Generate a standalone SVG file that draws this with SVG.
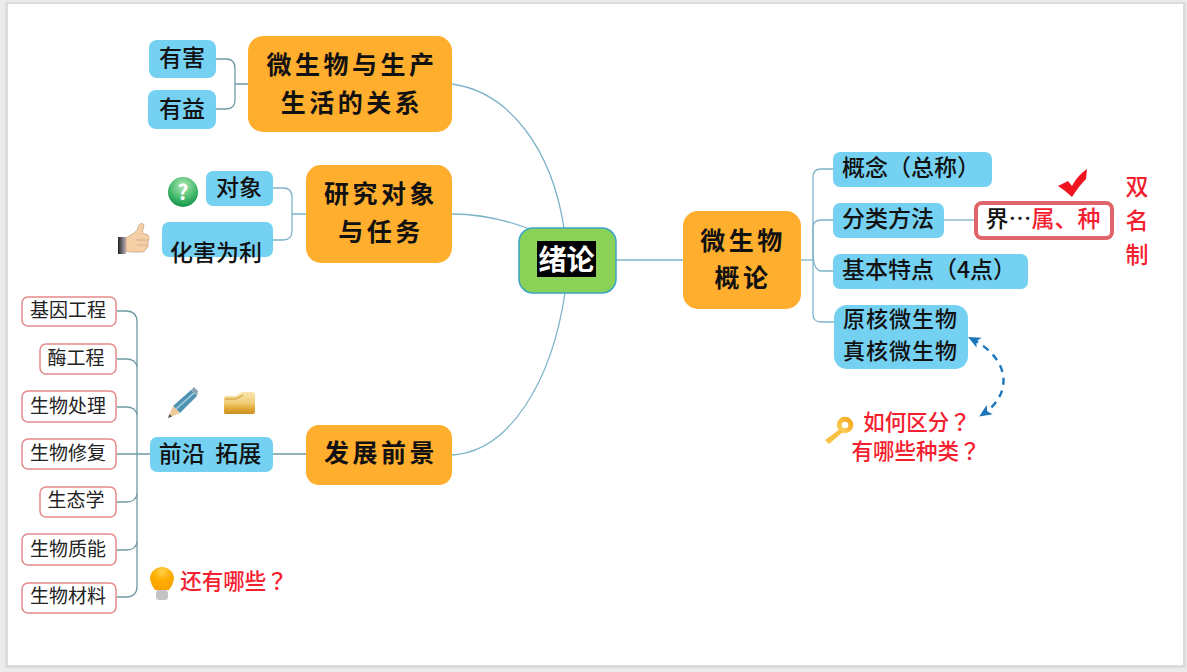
<svg xmlns="http://www.w3.org/2000/svg" width="1187" height="672" viewBox="0 0 1187 672">
<style>
text{font-family:"Noto Sans CJK SC","Noto Sans",sans-serif;text-anchor:middle;fill:#111}
.o{fill:#ffae2d}
.b{fill:#75d1f2}
.p{fill:#fff;stroke:#e58a8a;stroke-width:1.5}
.ot{font-size:25px;font-weight:700;letter-spacing:3.5px}
.bt{font-size:23px;font-weight:500}
.bs{font-size:22px;font-weight:500;letter-spacing:1px}
.pt{font-size:19px;fill:#222}
.r{fill:#f5202f;font-size:21.500px;font-weight:500}
.q{font-family:"Noto Sans CJK TC","Noto Sans",sans-serif}
.c{fill:none;stroke:#7eb4c8;stroke-width:1.3}
.g{fill:none;stroke:#6f9aa3;stroke-width:1.3}
</style>
<defs>
<marker id="ah" markerWidth="13" markerHeight="12" refX="8" refY="6" orient="auto-start-reverse" markerUnits="userSpaceOnUse" viewBox="0 0 13 12"><path d="M12.500 6L0 0.500L3 6L0 11.500Z" fill="#1b75bb"/></marker>
<linearGradient id="fold" x1="0" y1="0" x2="0" y2="1"><stop offset="0" stop-color="#fbe6b0"/><stop offset="0.5" stop-color="#f0cc78"/><stop offset="0.72" stop-color="#e3ad3a"/><stop offset="1" stop-color="#c98f1c"/></linearGradient>
<radialGradient id="qm" cx="0.5" cy="0.3" r="0.75"><stop offset="0" stop-color="#b5e8b5"/><stop offset="0.6" stop-color="#42b96a"/><stop offset="1" stop-color="#0c8a45"/></radialGradient>
<linearGradient id="key" x1="1" y1="0" x2="0" y2="1"><stop offset="0" stop-color="#f4a91f"/><stop offset="1" stop-color="#fbcf5e"/></linearGradient>
<linearGradient id="cuff" x1="0" y1="0" x2="1" y2="0"><stop offset="0" stop-color="#222"/><stop offset="1" stop-color="#b9b0b8"/></linearGradient>
<radialGradient id="bulbg" cx="0.5" cy="0.2" r="0.8"><stop offset="0" stop-color="#ffd34d"/><stop offset="0.5" stop-color="#ffab00"/><stop offset="1" stop-color="#f7a400"/></radialGradient>
</defs>
<rect width="1187" height="672" fill="#ebebeb"/>
<rect x="5" y="2" width="1181" height="666" fill="#dcdcdc"/>
<rect x="8" y="4" width="1175" height="661" fill="#fff"/>
<g id="connectors">
<path class="c" d="M452 84C510 92 552 150 564 228"/>
<path class="c" d="M452 214C480 214 505 220 527 228"/>
<path class="c" d="M452 455C510 452 552 380 565 293"/>
<path class="c" d="M616 260H684"/>
<path class="c" d="M801 260H813"/>
<path class="c" d="M833 169H821Q813 169 813 177V260V314Q813 322 821 322H834"/>
<path class="c" d="M833 220H821Q813 220 813 228V252Q813 270 821 271H834"/>
<path class="c" d="M944 220H976"/>
<path class="g" d="M216 59H226Q235 59 235 68V100Q235 109 226 109H216M235 84H248"/>
<path class="c" d="M273 188H283Q292 188 292 197V231Q292 240 283 240H273M292 214H306"/>
<path class="g" d="M273 454H306"/>
<path class="g" d="M117 454H150"/>
<path class="g" d="M117 311H126Q137 311 137 322V586Q137 597 126 597H117"/>
<path class="g" d="M117 359H126Q136 359 137 367"/>
<path class="g" d="M117 407H126Q136 407 137 415"/>
<path class="g" d="M117 502H126Q136 502 137 494"/>
<path class="g" d="M117 550H126Q136 550 137 542"/>
<path d="M972 339C1012 360 1012 395 983 414" fill="none" stroke="#1b75bb" stroke-width="2.4" stroke-dasharray="7 6" marker-start="url(#ah)" marker-end="url(#ah)"/>
</g>
<g id="n-root"><rect x="519" y="228" width="97" height="65" rx="14" fill="#8ad158" stroke="#3ba3c4" stroke-width="1.5"/><rect x="537" y="241" width="59" height="36" fill="#000"/><text x="566.500" y="270" style="font-size:28px;font-weight:700;fill:#fff">绪论</text></g>
<g id="n-relation"><rect class="o" x="248" y="36" width="204" height="96" rx="15"/><text class="ot" x="352" y="74">微生物与生产</text><text class="ot" x="352" y="112">生活的关系</text></g>
<g id="n-study"><rect class="o" x="306" y="165" width="146" height="98" rx="15"/><text class="ot" x="381" y="203">研究对象</text><text class="ot" x="381" y="241">与任务</text></g>
<g id="n-future"><rect class="o" x="306" y="425" width="146" height="60" rx="13"/><text class="ot" x="381" y="462">发展前景</text></g>
<g id="n-overview"><rect class="o" x="683" y="211" width="118" height="98" rx="15"/><text class="ot" x="743" y="250">微生物</text><text class="ot" x="743" y="287">概论</text></g>
<g id="n-harm"><rect class="b" x="149" y="40" width="67" height="38" rx="8"/><text class="bt" x="182" y="66">有害</text></g>
<g id="n-benefit"><rect class="b" x="148" y="90" width="68" height="39" rx="8"/><text class="bt" x="182" y="117">有益</text></g>
<g id="n-object"><rect class="b" x="206" y="171" width="67" height="35" rx="7"/><text class="bt" x="239" y="196">对象</text></g>
<g id="n-turn"><rect class="b" x="162" y="222" width="111" height="35" rx="7"/><text class="bt" x="216" y="261">化害为利</text></g>
<g id="n-front"><rect class="b" x="150" y="437" width="123" height="35" rx="7"/><text class="bt" x="210" y="462" xml:space="preserve">前沿  拓展</text></g>
<g id="n-concept"><rect class="b" x="833" y="152" width="159" height="35" rx="7"/><text class="bt" x="911" y="176">概念（总称）</text></g>
<g id="n-classify"><rect class="b" x="833" y="203" width="111" height="35" rx="7"/><text class="bt" x="888" y="227">分类方法</text></g>
<g id="n-basic"><rect class="b" x="833" y="254" width="195" height="35" rx="7"/><text class="bt" x="929" y="278">基本特点（4点）</text></g>
<g id="n-types"><rect class="b" x="834" y="305" width="134" height="64" rx="13"/><text class="bs" x="900.500" y="327">原核微生物</text><text class="bs" x="900.500" y="359">真核微生物</text></g>
<g id="n-taxon"><rect x="976" y="203" width="136" height="35" rx="6" fill="#fff" stroke="#e0646b" stroke-width="4"/><text class="bt" x="1043" y="227"><tspan>界…</tspan><tspan fill="#f5202f">属、种</tspan></text></g>
<g id="n-gene"><rect class="p" x="22" y="297" width="94" height="29" rx="6"/><text class="pt" x="68" y="317">基因工程</text></g>
<g id="n-enzyme"><rect class="p" x="40" y="344" width="76" height="30" rx="6"/><text class="pt" x="76" y="365">酶工程</text></g>
<g id="n-treat"><rect class="p" x="22" y="391" width="94" height="31" rx="6"/><text class="pt" x="68" y="413">生物处理</text></g>
<g id="n-repair"><rect class="p" x="22" y="439" width="94" height="30" rx="6"/><text class="pt" x="68" y="460">生物修复</text></g>
<g id="n-eco"><rect class="p" x="40" y="487" width="76" height="30" rx="6"/><text class="pt" x="76" y="507">生态学</text></g>
<g id="n-energy"><rect class="p" x="22" y="534" width="94" height="31" rx="6"/><text class="pt" x="68" y="556">生物质能</text></g>
<g id="n-material"><rect class="p" x="22" y="583" width="94" height="30" rx="6"/><text class="pt" x="68" y="603">生物材料</text></g>
<g id="labels">
<text class="r" x="1137" y="195" style="font-size:23px">双</text><text class="r" x="1137" y="229" style="font-size:23px">名</text><text class="r" x="1137" y="263" style="font-size:23px">制</text>
<text class="r" x="917" y="430">如何区分<tspan class="q">？</tspan></text><text class="r" x="916" y="459">有哪些种类<tspan class="q">？</tspan></text>
<text class="r" x="234" y="589">还有哪些<tspan class="q">？</tspan></text>
</g>
<g id="icons">
<path d="M1058 186L1068 181L1072 186Q1077 176 1087 169L1086 179Q1079 186 1072 197Q1066 191 1058 186Z" fill="#f0141e"/>
<circle cx="183" cy="192" r="15" fill="url(#qm)"/><text x="183" y="200" style="font-size:21px;font-weight:700;fill:#fff">?</text>
<g id="thumb"><rect x="118" y="237" width="8" height="17" fill="url(#cuff)"/><path d="M126 238L134 233Q138 230 139 225Q143 221 144 226L142 233L148 235Q150 238 148 242Q149 247 146 249Q145 252 141 252H132L126 251Z" fill="#f5cfa6" stroke="#c49a78" stroke-width="0.7"/><path d="M136 240H148M137 245H147" stroke="#c49a78" stroke-width="0.6" fill="none"/></g>
<g id="pencil"><path d="M173 406L191 390L197 396L180 413Z" fill="#4f93b3"/><path d="M176 409L194 393" stroke="#a8d3e2" stroke-width="1.500"/><path d="M191 390L194 387L198 391L197 396Z" fill="#8aa7b3"/><path d="M173 406L180 413L168 418Z" fill="#edc99a"/><path d="M168 418L169.500 414L172 416.500Z" fill="#555"/></g>
<path d="M225 414Q224 414 224 412V398Q224 396 227 396H236L242 392H252Q255 392 255 395V412Q255 414 253 414Z" fill="url(#fold)"/><path d="M225 399H236L243 395" stroke="#c9952a" stroke-width="1" fill="none"/>
<g id="key-icon"><circle cx="845" cy="425" r="5.800" fill="#fff" stroke="url(#key)" stroke-width="5"/><path d="M840 429L825 440L829 444L843 432Z" fill="#f8c344"/></g>
<g id="bulb"><path d="M150 579A12 12 0 1 1 174 579Q173 585 169 590H155Q151 585 150 579Z" fill="url(#bulbg)"/><rect x="156" y="590" width="12" height="10" rx="3" fill="#c4c4c4"/></g>
</g>
</svg>
